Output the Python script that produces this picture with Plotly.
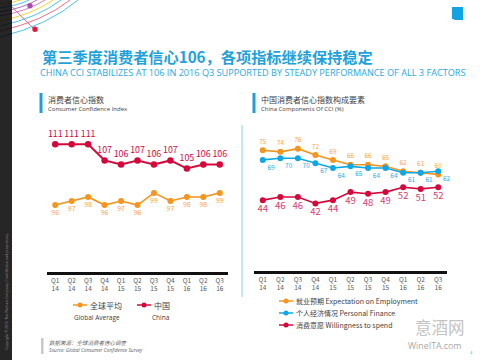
import plotly.graph_objects as go

# ---------------- data ----------------
quarters = ["Q1<br>14", "Q2<br>14", "Q3<br>14", "Q4<br>14", "Q1<br>15", "Q2<br>15",
            "Q3<br>15", "Q4<br>15", "Q1<br>16", "Q2<br>16", "Q3<br>16"]
china_cci = [111, 111, 111, 107, 106, 107, 106, 107, 105, 106, 106]
global_cci = [96, 97, 98, 96, 97, 96, 99, 97, 98, 98, 99]
employment = [75, 74, 76, 72, 69, 66, 66, 65, 62, 61, 60]
personal_finance = [69, 70, 70, 67, 64, 65, 64, 64, 61, 61, 62]
willingness = [44, 46, 46, 42, 44, 49, 48, 49, 52, 51, 52]

ORANGE = "#f7941d"
ORANGE_T = "#f9a54a"
RED = "#d6083b"
BLUE = "#0fa8e6"
PINK = "#dc3a70"
TITLE_BLUE = "#1fa2dc"
CJK = "Noto Sans CJK SC"

W, H = 480, 360
def px(x): return x / W
def py(y): return 1 - y / H

xi = list(range(len(quarters)))

fig = go.Figure()

# ---------------- left chart ----------------
fig.add_trace(go.Scatter(
    x=xi, y=global_cci, mode="lines+markers+text", text=[str(v) for v in global_cci],
    textposition="bottom center", textfont=dict(size=7, color=ORANGE_T, family=CJK),
    line=dict(color=ORANGE, width=1.6), marker=dict(size=6, color=ORANGE),
    xaxis="x", yaxis="y", showlegend=False, cliponaxis=False))
fig.add_trace(go.Scatter(
    x=xi, y=china_cci, mode="lines+markers+text", text=[str(v) for v in china_cci],
    textposition="top center", textfont=dict(size=8.8, color=RED, family=CJK),
    line=dict(color=RED, width=2), marker=dict(size=6.5, color=RED),
    xaxis="x", yaxis="y", showlegend=False, cliponaxis=False))

# ---------------- right chart ----------------
fig.add_trace(go.Scatter(
    x=xi, y=employment, mode="lines+markers+text", text=[str(v) for v in employment],
    textposition="top center", textfont=dict(size=6.5, color=ORANGE_T, family=CJK),
    line=dict(color=ORANGE, width=1.6), marker=dict(size=6, color=ORANGE),
    xaxis="x2", yaxis="y2", showlegend=False, cliponaxis=False))
fig.add_trace(go.Scatter(
    x=xi, y=personal_finance, mode="lines+markers+text", text=[str(v) for v in personal_finance],
    textposition="bottom right", textfont=dict(size=6.5, color="#2aace2", family=CJK),
    line=dict(color=BLUE, width=1.6), marker=dict(size=6, color=BLUE),
    xaxis="x2", yaxis="y2", showlegend=False, cliponaxis=False))
fig.add_trace(go.Scatter(
    x=xi, y=willingness, mode="lines+markers+text", text=[str(v) for v in willingness],
    textposition="bottom center", textfont=dict(size=9.5, color=PINK, family=CJK),
    line=dict(color=RED, width=1.6), marker=dict(size=6, color=RED),
    xaxis="x2", yaxis="y2", showlegend=False, cliponaxis=False))

xaxis_common = dict(
    tickmode="array", tickvals=xi, ticktext=quarters, range=[-0.5, 10.5],
    showgrid=False, zeroline=False, showline=True, linecolor="#111111", linewidth=3,
    ticks="", tickfont=dict(size=6.5, color="#595959", family=CJK), fixedrange=True)

fig.update_layout(
    width=W, height=H, margin=dict(l=0, r=0, t=0, b=0),
    paper_bgcolor="white", plot_bgcolor="rgba(0,0,0,0)",
    xaxis=dict(domain=[px(47), px(228)], anchor="y", **xaxis_common),
    yaxis=dict(domain=[py(272), py(130)], range=[79.5, 114.5], visible=False, fixedrange=True),
    xaxis2=dict(domain=[px(254), px(447)], anchor="y2", **xaxis_common),
    yaxis2=dict(domain=[py(271), py(110)], range=[0, 100], visible=False, fixedrange=True),
)

shapes = []
ann = []

# ---------------- decoration top-left ----------------
arcs = [(78, 37, "#4cc3ee"), (70, 31, "#f06c8c"), (61, 26, "#4cc3ee"), (53, 21, "#f3d22e"),
        (45, 16, "#e07ab8"), (37, 12, "#b56fc4"), (29, 8, "#4cc3ee"), (21, 4, "#f3d22e")]
for tx, ly, col in arcs:
    cx, cy = tx * 0.62, ly * 0.68
    shapes.append(dict(type="path", xref="paper", yref="paper",
                       path=f"M {px(tx)},{py(0)} Q {px(cx)},{py(cy)} {px(0)},{py(ly)}",
                       line=dict(color=col, width=1)))
shapes.append(dict(type="line", xref="paper", yref="paper", x0=px(8), y0=py(3), x1=px(35), y1=py(30),
                   line=dict(color="#e8708c", width=1)))
shapes.append(dict(type="rect", xref="paper", yref="paper", x0=0, x1=px(12), y0=0, y1=1,
                   fillcolor="black", opacity=0.85, line=dict(width=0)))
shapes.append(dict(type="circle", xref="paper", yref="paper", x0=px(27.3), x1=px(32.7),
                   y0=py(8.4), y1=py(3), fillcolor="#a94bb0", line=dict(width=0)))
shapes.append(dict(type="circle", xref="paper", yref="paper", x0=px(32.3), x1=px(37.7),
                   y0=py(32), y1=py(26.6), fillcolor="#e3173f", line=dict(width=0)))

# logo
shapes.append(dict(type="rect", xref="paper", yref="paper", x0=px(452), x1=px(463),
                   y0=py(20), y1=py(7), fillcolor="#12a4e2", line=dict(width=0)))
ann.append(dict(text="<b>n</b>", x=px(457.5), y=py(13), xref="paper", yref="paper",
                showarrow=False, font=dict(size=10, color="white", family="DejaVu Serif")))

# ---------------- titles ----------------
ann.append(dict(text="<b>第三季度消费者信心106，各项指标继续保持稳定</b>", x=px(40), y=py(56),
                xref="paper", yref="paper", xanchor="left", yanchor="middle", showarrow=False,
                font=dict(size=15.2, color=TITLE_BLUE, family=CJK)))
ann.append(dict(text="CHINA CCI STABILIZES AT 106 IN 2016 Q3 SUPPORTED BY STEADY PERFORMANCE OF ALL 3 FACTORS",
                x=px(38), y=py(73), xref="paper", yref="paper", xanchor="left", yanchor="middle",
                showarrow=False, font=dict(size=9.15, color="#2aa8e0", family="Open Sans")))

# panel headers
for bx, t1, t2 in [(41, "消费者信心指数", "Consumer Confidence Index"),
                   (254, "中国消费者信心指数构成要素", "China Components Of CCI (%)")]:
    shapes.append(dict(type="rect", xref="paper", yref="paper", x0=px(bx - 1.5), x1=px(bx + 1.5),
                       y0=py(113), y1=py(93), fillcolor="#1a9fdb", line=dict(width=0)))
    ann.append(dict(text=t1, x=px(bx + 5), y=py(99), xref="paper", yref="paper", xanchor="left",
                    yanchor="middle", showarrow=False, font=dict(size=8, color="#404040", family=CJK)))
    ann.append(dict(text=t2, x=px(bx + 5), y=py(108.5), xref="paper", yref="paper", xanchor="left",
                    yanchor="middle", showarrow=False, font=dict(size=6, color="#404040", family="Open Sans")))

# divider
shapes.append(dict(type="line", xref="paper", yref="paper", x0=px(242), x1=px(242), y0=py(297), y1=py(125),
                   line=dict(color="#86d2f0", width=1)))

# ---------------- legends ----------------
def legend_mark(x, y, col):
    shapes.append(dict(type="line", xref="paper", yref="paper", x0=px(x - 7), x1=px(x + 7),
                       y0=py(y), y1=py(y), line=dict(color=col, width=1.5)))
    shapes.append(dict(type="circle", xref="paper", yref="paper", x0=px(x - 2.5), x1=px(x + 2.5),
                       y0=py(y + 2.5), y1=py(y - 2.5), fillcolor=col, line=dict(width=0)))

legend_mark(80, 305, ORANGE)
ann.append(dict(text="全球平均", x=px(88), y=py(305), xref="paper", yref="paper", xanchor="left",
                yanchor="middle", showarrow=False, font=dict(size=8, color="#404040", family=CJK)))
ann.append(dict(text="Global Average", x=px(97), y=py(317), xref="paper", yref="paper", xanchor="center",
                yanchor="middle", showarrow=False, font=dict(size=6.5, color="#404040", family="Open Sans")))
legend_mark(144, 305, RED)
ann.append(dict(text="中国", x=px(152), y=py(305), xref="paper", yref="paper", xanchor="left",
                yanchor="middle", showarrow=False, font=dict(size=8, color="#404040", family=CJK)))
ann.append(dict(text="China", x=px(161), y=py(317), xref="paper", yref="paper", xanchor="center",
                yanchor="middle", showarrow=False, font=dict(size=6.5, color="#404040", family="Open Sans")))

for yy, col, label in [(301, ORANGE, "就业预期 Expectation on Employment"),
                       (313, BLUE, "个人经济情况 Personal Finance"),
                       (325, RED, "消费意愿 Willingness to spend")]:
    legend_mark(286, yy, col)
    ann.append(dict(text=label, x=px(294), y=py(yy), xref="paper", yref="paper", xanchor="left",
                    yanchor="middle", showarrow=False, font=dict(size=7, color="#404040", family=CJK)))

# ---------------- footer ----------------
shapes.append(dict(type="rect", xref="paper", yref="paper", x0=px(41), x1=px(43.5), y0=py(354), y1=py(338),
                   fillcolor="#c8c8c8", line=dict(width=0)))
ann.append(dict(text="<i>数据来源：全球消费者信心调查</i>", x=px(47), y=py(342.5), xref="paper", yref="paper",
                xanchor="left", yanchor="middle", showarrow=False,
                font=dict(size=5.5, color="#606060", family=CJK)))
ann.append(dict(text="<i>Source: Global Consumer Confidence Survey</i>", x=px(47), y=py(349.5),
                xref="paper", yref="paper", xanchor="left", yanchor="middle", showarrow=False,
                font=dict(size=4.8, color="#606060", family="Open Sans")))
ann.append(dict(text="意酒网", x=px(440), y=py(327), xref="paper", yref="paper", xanchor="center",
                yanchor="middle", showarrow=False, font=dict(size=16.5, color="#c4c4c4", family=CJK)))
ann.append(dict(text="WineITA.com", x=px(435), y=py(345.5), xref="paper", yref="paper", xanchor="center",
                yanchor="middle", showarrow=False, font=dict(size=8.8, color="#a8a8a8", family="Open Sans")))
ann.append(dict(text="4", x=px(471), y=py(352), xref="paper", yref="paper", xanchor="center",
                yanchor="middle", showarrow=False, font=dict(size=4, color="#2aa8e0", family="Open Sans")))
ann.append(dict(text="Copyright © 2016 The Nielsen Company. Confidential and proprietary.",
                x=px(6), y=py(292), xref="paper", yref="paper", xanchor="center", yanchor="middle",
                textangle=-90, showarrow=False, font=dict(size=3.6, color="#8a8a8a", family="Open Sans")))

fig.update_layout(shapes=shapes, annotations=ann)
fig.write_html("out.html", config={"displayModeBar": False, "staticPlot": True},
               post_script="document.body.style.margin='0';document.body.style.overflow='hidden';")
